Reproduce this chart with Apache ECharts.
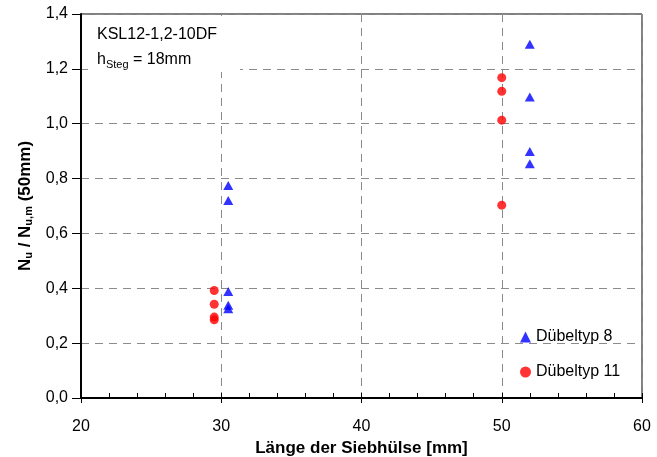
<!DOCTYPE html>
<html>
<head>
<meta charset="utf-8">
<script src="https://cdn.jsdelivr.net/npm/echarts@6/dist/echarts.min.js"></script>
<style>html,body{margin:0;padding:0;background:#fff;}#c{width:657px;height:457px;}</style>
</head>
<body>
<div id="c"></div>
<script>
const xTicks = [20, 30, 40, 50, 60];
const yTicks = [0, 0.2, 0.4, 0.6, 0.8, 1.0, 1.2, 1.4];
const typ8X = [30.5, 30.5, 30.5, 30.5, 30.5, 52, 52, 52, 52];
const typ8Y = [0.775, 0.72, 0.388, 0.338, 0.325, 1.29, 1.097, 0.899, 0.854];
const typ11X = [29.5, 29.5, 29.5, 29.5, 50, 50, 50, 50];
const typ11Y = [0.392, 0.342, 0.295, 0.285, 1.168, 1.118, 1.013, 0.703];
const seriesNames = ['Dübeltyp 8', 'Dübeltyp 11'];

const font = 'Arial, "Liberation Sans", sans-serif';
const pairs = (xs, ys) => xs.map((x, i) => [x, ys[i]]);
const fmt = v => v.toFixed(1).replace('.', ',');

const chart = echarts.init(document.getElementById('c'), null, {renderer: 'canvas'});
chart.setOption({
  animation: false,
  backgroundColor: '#fff',
  grid: {left: 81, right: 15, top: 14, bottom: 59, show: true, borderColor: '#000', borderWidth: 1,
         containLabel: false, outerBoundsMode: 'none'},
  xAxis: [{
    type: 'value', min: xTicks[0], max: xTicks[xTicks.length - 1], interval: 10,
    name: 'Länge der Siebhülse [mm]', nameLocation: 'middle', nameGap: 41,
    nameTextStyle: {fontFamily: font, fontSize: 17, fontWeight: 'bold', color: '#000', verticalAlign: 'top'},
    axisLine: {show: true, lineStyle: {color: '#000', width: 2}},
    axisTick: {show: true, inside: true, length: 5, lineStyle: {color: '#000', width: 1}},
    minorTick: {show: true, splitNumber: 5, length: 5, lineStyle: {color: '#000', width: 1}},
    axisLabel: {margin: 21, fontFamily: font, fontSize: 16, color: '#000'},
    splitLine: {show: true, lineStyle: {color: '#8a8a8a', type: [8, 6], width: 1}}
  }, {
    type: 'value', min: xTicks[0], max: xTicks[xTicks.length - 1], interval: 10, position: 'bottom',
    axisLine: {show: false}, axisTick: {show: true, inside: false, length: 5, lineStyle: {color: '#000', width: 1}},
    axisLabel: {show: false}, splitLine: {show: false}
  }],
  yAxis: {
    type: 'value', min: yTicks[0], max: yTicks[yTicks.length - 1], interval: 0.2,
    name: '{b|N}{s|u}{b| / N}{s|u,m}{b| (50mm)}', nameLocation: 'middle', nameGap: 43, nameRotate: 90,
    nameTextStyle: {
      fontFamily: font, fontSize: 17, fontWeight: 'bold', color: '#000',
      rich: {
        b: {fontFamily: font, fontSize: 17, fontWeight: 'bold', color: '#000', verticalAlign: 'middle', lineHeight: 20},
        s: {fontFamily: font, fontSize: 11, fontWeight: 'bold', color: '#000', verticalAlign: 'middle', padding: [9, 0, 0, 0], lineHeight: 11}
      }
    },
    axisLine: {show: true, lineStyle: {color: '#000', width: 2}},
    axisTick: {show: true, inside: false, length: 9, lineStyle: {color: '#000', width: 1}},
    axisLabel: {margin: 13, fontFamily: font, fontSize: 16, color: '#000', formatter: fmt},
    splitLine: {show: true, lineStyle: {color: '#8a8a8a', type: [8, 6], width: 1}}
  },
  legend: {
    orient: 'vertical', left: 515, top: 324, itemWidth: 11, itemHeight: 11, itemGap: 19,
    textStyle: {fontFamily: font, fontSize: 16, color: '#000'},
    data: [{name: seriesNames[0], icon: 'triangle'}, {name: seriesNames[1], icon: 'circle'}]
  },
  graphic: [
    {type: 'rect', z: 100, shape: {x: 88, y: 16, width: 152, height: 56}, style: {fill: '#fff'}},
    {type: 'text', z: 101, left: 97, top: 27, style: {text: 'KSL12-1,2-10DF', font: '16px ' + font, fill: '#000'}},
    {type: 'text', z: 101, left: 97, top: 50, style: {
      text: '{a|h}{s|Steg}{a| = 18mm}',
      rich: {
        a: {fontFamily: font, fontSize: 16, fill: '#000', verticalAlign: 'middle', lineHeight: 18},
        s: {fontFamily: font, fontSize: 11, fill: '#000', verticalAlign: 'middle', padding: [9, 0, 0, 0], lineHeight: 11}
      }
    }}
  ],
  series: [{
    name: seriesNames[0], type: 'scatter', symbol: 'triangle', symbolSize: [10, 9],
    itemStyle: {color: '#0000ff'}, data: pairs(typ8X, typ8Y), z: 5
  }, {
    name: seriesNames[1], type: 'scatter', symbol: 'circle', symbolSize: 9,
    itemStyle: {color: '#ff0000'}, data: pairs(typ11X, typ11Y), z: 5
  }]
});
</script>
</body>
</html>
